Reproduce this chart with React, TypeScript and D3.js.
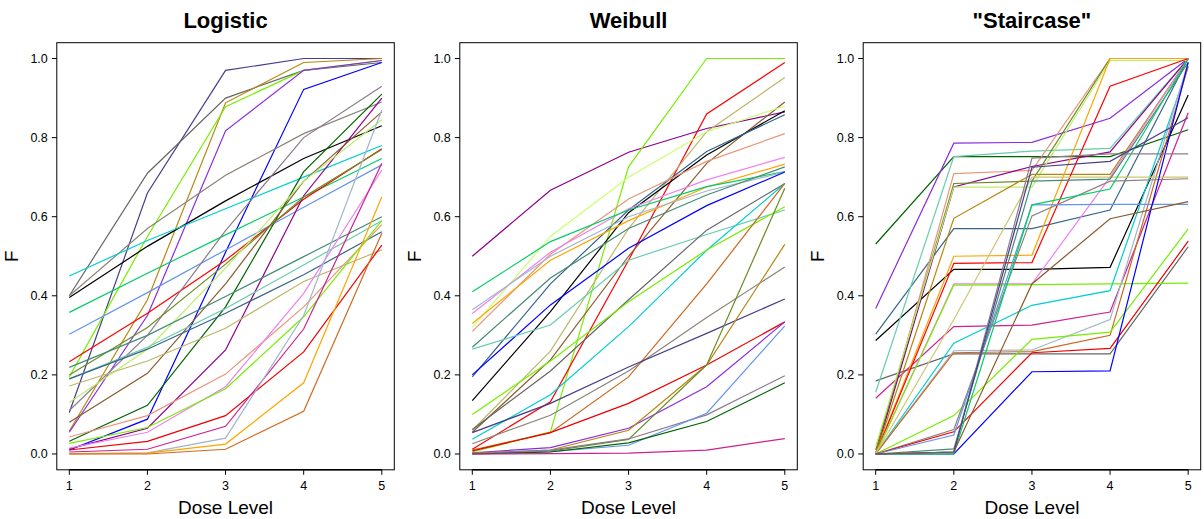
import React from 'react';
import * as d3 from 'd3';

const doses = [1, 2, 3, 4, 5];
const yTicks = [0, 0.2, 0.4, 0.6, 0.8, 1.0];
const panelTitles = ['Logistic', 'Weibull', '"Staircase"'];

// Logistic panel: one colour per curve, one row of F values per curve
const logisticColors = [
  '#483D8B', '#666666', '#B8860B', '#76EE00', '#8A2BE2', '#0000FF', '#8B8378', '#000000',
  '#00CED1', '#00CD66', '#6495ED', '#FF0000', '#006400', '#8B008B', '#8B5A2B', '#8B7B8B',
  '#6B8E23', '#BCEE68', '#458B74', '#66CDAA', '#36648B', '#BDB76B', '#E9967A', '#EE82EE',
  '#76EE00', '#EE0000', '#D02090', '#A2B5CD', '#FFA500', '#D2691E',
];
const logisticValues = [
  [0.105, 0.66, 0.97, 1.0, 1.0],
  [0.4, 0.71, 0.9, 0.97, 0.99],
  [0.058, 0.39, 0.888, 0.99, 1.0],
  [0.195, 0.55, 0.878, 0.97, 0.995],
  [0.055, 0.35, 0.817, 0.97, 0.995],
  [0.01, 0.088, 0.51, 0.922, 0.99],
  [0.4, 0.57, 0.705, 0.81, 0.89],
  [0.396, 0.525, 0.64, 0.747, 0.83],
  [0.45, 0.54, 0.62, 0.7, 0.78],
  [0.358, 0.457, 0.554, 0.65, 0.747],
  [0.303, 0.408, 0.516, 0.624, 0.731],
  [0.233, 0.356, 0.49, 0.644, 0.772],
  [0.032, 0.123, 0.372, 0.714, 0.91],
  [0.013, 0.065, 0.263, 0.653, 0.9],
  [0.08, 0.204, 0.43, 0.69, 0.865],
  [0.11, 0.3, 0.565, 0.8, 0.93],
  [0.2, 0.32, 0.48, 0.65, 0.77],
  [0.13, 0.265, 0.47, 0.69, 0.845],
  [0.219, 0.3, 0.398, 0.499, 0.6],
  [0.19, 0.27, 0.368, 0.478, 0.59],
  [0.19, 0.265, 0.356, 0.453, 0.562],
  [0.172, 0.235, 0.318, 0.436, 0.516],
  [0.043, 0.097, 0.202, 0.372, 0.58],
  [0.015, 0.055, 0.17, 0.406, 0.718],
  [0.027, 0.067, 0.165, 0.347, 0.59],
  [0.01, 0.032, 0.097, 0.258, 0.528],
  [0.005, 0.012, 0.07, 0.316, 0.735],
  [0.001, 0.003, 0.04, 0.35, 0.87],
  [0.0, 0.002, 0.025, 0.18, 0.65],
  [0.0, 0.0, 0.012, 0.108, 0.558],
];

// Weibull panel
const weibullColors = [
  '#8B008B', '#76EE00', '#FF0000', '#BDB76B', '#8B5A2B', '#CAFF70', '#000000', '#36648B',
  '#E9967A', '#EE82EE', '#FFA500', '#00CD66', '#A2B5CD', '#458B74', '#0000FF', '#66CDAA',
  '#666666', '#00CED1', '#76EE00', '#CD661D', '#8B8378', '#483D8B', '#EE0000', '#8A2BE2',
  '#B8860B', '#698B22', '#8B7B8B', '#6495ED', '#006400', '#D02090',
];
const weibullValues = [
  [0.5, 0.667, 0.763, 0.823, 0.865],
  [0.005, 0.056, 0.726, 1.0, 1.0],
  [0.012, 0.132, 0.49, 0.86, 0.99],
  [0.06, 0.26, 0.57, 0.815, 0.952],
  [0.055, 0.238, 0.5, 0.735, 0.89],
  [0.32, 0.55, 0.7, 0.815, 0.88],
  [0.135, 0.36, 0.61, 0.756, 0.868],
  [0.195, 0.43, 0.617, 0.765, 0.858],
  [0.31, 0.505, 0.645, 0.74, 0.81],
  [0.355, 0.51, 0.62, 0.693, 0.75],
  [0.33, 0.49, 0.59, 0.675, 0.733],
  [0.41, 0.537, 0.617, 0.676, 0.714],
  [0.365, 0.5, 0.6, 0.665, 0.713],
  [0.27, 0.445, 0.57, 0.655, 0.726],
  [0.2, 0.377, 0.52, 0.628, 0.713],
  [0.265, 0.326, 0.49, 0.555, 0.617],
  [0.062, 0.21, 0.39, 0.566, 0.684],
  [0.037, 0.15, 0.322, 0.515, 0.684],
  [0.1, 0.235, 0.385, 0.516, 0.625],
  [0.01, 0.054, 0.195, 0.43, 0.684],
  [0.026, 0.098, 0.21, 0.345, 0.473],
  [0.054, 0.128, 0.22, 0.305, 0.392],
  [0.008, 0.054, 0.128, 0.225, 0.334],
  [0.003, 0.016, 0.065, 0.17, 0.334],
  [0.002, 0.01, 0.06, 0.225, 0.53],
  [0.001, 0.007, 0.037, 0.225, 0.672],
  [0.001, 0.01, 0.038, 0.099, 0.198],
  [0.0, 0.006, 0.022, 0.103, 0.324],
  [0.0, 0.005, 0.028, 0.082, 0.18],
  [0.0, 0.001, 0.002, 0.01, 0.039],
];

// "Staircase" panel
const staircaseColors = [
  '#006400', '#8A2BE2', '#36648B', '#000000', '#666666', '#66CDAA', '#D02090', '#E9967A',
  '#8B008B', '#698B22', '#BCEE68', '#B8860B', '#FFA500', '#FF0000', '#EE82EE', '#76EE00',
  '#00CED1', '#A2B5CD', '#CD661D', '#CDC673', '#76EE00', '#8B8378', '#EE0000', '#6495ED',
  '#458B74', '#0000FF', '#00CD66', '#8B7B8B', '#483D8B', '#8B5A2B',
];
const staircaseValues = [
  [0.531, 0.752, 0.752, 0.752, 0.82],
  [0.368, 0.786, 0.788, 0.849, 1.0],
  [0.303, 0.57, 0.57, 0.617, 1.0],
  [0.287, 0.467, 0.467, 0.472, 0.908],
  [0.185, 0.253, 0.253, 0.253, 0.524],
  [0.156, 0.752, 0.766, 0.773, 1.0],
  [0.141, 0.322, 0.326, 0.359, 0.863],
  [0.0, 0.709, 0.717, 1.0, 1.0],
  [0.0, 0.675, 0.727, 0.764, 1.0],
  [0.01, 0.684, 0.69, 1.0, 1.0],
  [0.02, 0.675, 0.675, 0.995, 0.995],
  [0.0, 0.596, 0.707, 0.707, 1.0],
  [0.0, 0.5, 0.503, 1.0, 1.0],
  [0.0, 0.482, 0.484, 0.93, 1.0],
  [0.0, 0.43, 0.43, 0.7, 1.0],
  [0.0, 0.427, 0.428, 0.43, 0.432],
  [0.0, 0.28, 0.376, 0.413, 0.98],
  [0.0, 0.261, 0.263, 0.34, 0.99],
  [0.0, 0.256, 0.259, 0.3, 0.98],
  [0.0, 0.34, 0.7, 0.7, 0.7],
  [0.0, 0.097, 0.29, 0.308, 0.569],
  [0.0, 0.062, 0.602, 0.69, 0.696],
  [0.0, 0.056, 0.256, 0.267, 0.538],
  [0.0, 0.048, 0.63, 0.631, 0.631],
  [0.0, 0.013, 0.69, 0.695, 0.99],
  [0.0, 0.0, 0.208, 0.21, 0.99],
  [0.0, 0.0, 0.63, 0.67, 1.0],
  [0.0, 0.005, 0.748, 0.759, 0.759],
  [0.0, 0.005, 0.725, 0.74, 0.85],
  [0.0, 0.005, 0.43, 0.595, 0.638],
];

const panels = [
  { title: panelTitles[0], colors: logisticColors, values: logisticValues, left: 56.8 },
  { title: panelTitles[1], colors: weibullColors, values: weibullValues, left: 459.8 },
  { title: panelTitles[2], colors: staircaseColors, values: staircaseValues, left: 863.2 },
];

const W = 1204;
const H = 519;
const boxW = 337.5;
const top = 42.7;
const bottom = 469.8;
const font = 'Liberation Sans, Arial, Helvetica, sans-serif';

function Panel({ title, colors, values, left }) {
  const x = d3.scaleLinear().domain([0.84, 5.16]).range([left, left + boxW]);
  const y = d3.scaleLinear().domain([-0.04, 1.04]).range([bottom, top]);
  const line = d3.line<number>()
    .x((d, i) => x(doses[i]))
    .y(d => y(d));
  const cx = left + boxW / 2;

  return (
    <g>
      <text x={cx} y={28} textAnchor="middle" fontFamily={font} fontWeight="bold" fontSize={22}>{title}</text>
      {values.map((v, i) => (
        <path key={i} d={line(v) || ''} fill="none" stroke={colors[i]} strokeWidth={1.2} />
      ))}
      <rect x={left} y={top} width={boxW} height={bottom - top} fill="none" stroke="#000" strokeWidth={1} />
      {/* y axis */}
      {yTicks.map(t => (
        <g key={t}>
          <line x1={left - 5} x2={left} y1={y(t)} y2={y(t)} stroke="#000" />
          <text x={left - 9} y={y(t)} dy="0.35em" textAnchor="end" fontFamily={font} fontSize={12.5}>{t.toFixed(1)}</text>
        </g>
      ))}
      {/* x axis */}
      <line x1={x(1)} x2={x(5)} y1={bottom} y2={bottom} stroke="#000" strokeWidth={1.5} />
      {doses.map(d => (
        <g key={d}>
          <line x1={x(d)} x2={x(d)} y1={bottom} y2={bottom + 5} stroke="#000" />
          <text x={x(d)} y={490} textAnchor="middle" fontFamily={font} fontSize={12.5}>{d}</text>
        </g>
      ))}
      <text x={cx} y={514} textAnchor="middle" fontFamily={font} fontSize={19}>Dose Level</text>
      <text transform={`translate(${left - 39},${(top + bottom) / 2}) rotate(-90)`} textAnchor="middle" fontFamily={font} fontSize={19}>F</text>
    </g>
  );
}

export default function App() {
  return (
    <svg width={W} height={H} style={{ position: 'absolute', left: 0, top: 0, background: '#fff' }}>
      {panels.map(p => (
        <Panel key={p.title} {...p} />
      ))}
    </svg>
  );
}
